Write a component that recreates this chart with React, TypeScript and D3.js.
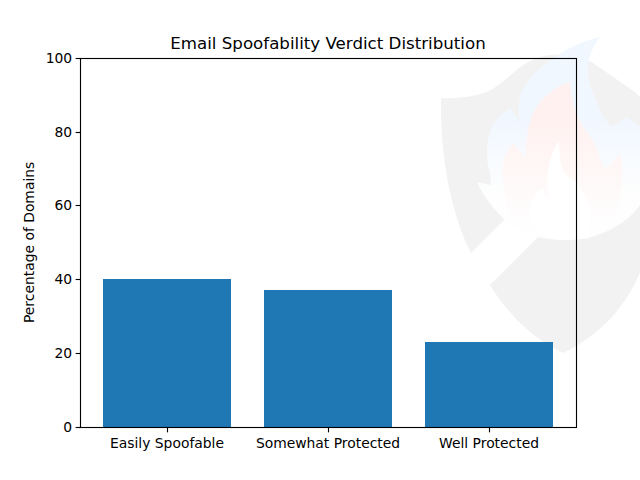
import React from 'react';
import * as d3 from 'd3';

const categories = ['Easily Spoofable', 'Somewhat Protected', 'Well Protected'];
const percentages = [40, 37, 23];
const yTicks = [0, 20, 40, 60, 80, 100];

const width = 640;
const height = 480;
const margin = { top: 57.6, right: 64, bottom: 52.8, left: 80 };
const font = '"DejaVu Sans", sans-serif';

// faint logo behind the plot
const shieldTop = 'M441 98 C456 99 472 97 487 92 C500 86 512 73 523 65 C550 48 580 55 593 63 L635 92 L640 97 L640 210 L520 204 L471 253 C452 215 440 160 441 98 Z';
const shieldBottom = 'M490 285 L560 215 L640 190 L640 272 C625 310 595 338 563 353 C535 340 508 315 490 285 Z';
const flameOuter = 'M600 37 C585 40 563 50 548 62 C533 73 523 85 520 97 C518 106 518 114 520 122 L510 108 C500 115 493 122 490 132 C486 146 486 160 490 173 L491 185 L477 182 C483 195 493 209 505 220 C520 235 545 240 563 240 C590 241 622 230 640 205 L640 127 L627 117 L612 127 L603 117 L593 93 C587 78 583 60 600 37 Z';
const flameRed = 'M570 82 C556 86 543 97 536 108 C530 118 527 130 525 158 L513 143 C507 150 503 158 503 167 C502 180 504 195 512 225 L612 225 C618 210 622 195 622 180 C623 172 622 162 620 154 C615 160 609 165 605 170 C600 158 597 150 595 143 C585 130 578 120 575 110 C572 100 571 92 570 82 Z';
const flameInner = 'M559 141 C552 150 548 165 547 180 C547 188 548 196 550 203 L542 188 C536 194 532 198 531 204 C527 215 530 222 535 227 C545 237 555 240 563 240 L590 238 L590 210 C588 203 585 197 583 193 C580 186 577 182 572 179 C565 175 562 170 560 160 L559 141 Z';

export default function App() {
  const x = d3.scaleBand<string>()
    .domain(categories)
    .range([margin.left, width - margin.right])
    .paddingInner(0.2)
    .paddingOuter(0.14);
  const y = d3.scaleLinear()
    .domain([0, 100])
    .range([height - margin.bottom, margin.top]);
  const snap = (v: number) => Math.round(v) + 0.5;
  const left = snap(margin.left);
  const right = snap(width - margin.right);
  const top = snap(margin.top);
  const bottom = snap(height - margin.bottom);

  return (
    <svg width={width} height={height} style={{ position: 'absolute', left: 0, top: 0 }} fontFamily={font}>
      <defs>
        <linearGradient id="blueFade" gradientUnits="userSpaceOnUse" x1={0} x2={0} y1={120} y2={195}>
          <stop offset="0%" stopColor="#f1f7ff" />
          <stop offset="100%" stopColor="#fefefe" />
        </linearGradient>
        <linearGradient id="redFade" gradientUnits="userSpaceOnUse" x1={0} x2={0} y1={120} y2={222}>
          <stop offset="0%" stopColor="#fff1f0" />
          <stop offset="100%" stopColor="#fefefe" />
        </linearGradient>
      </defs>
      <rect width={width} height={height} fill="#fff" />
      <g>
        <path d={shieldTop} fill="#f2f2f2" />
        <path d={shieldBottom} fill="#f2f2f2" />
        <path d={flameOuter} fill="url(#blueFade)" />
        <path d={flameRed} fill="url(#redFade)" />
        <path d={flameInner} fill="#fff" />
      </g>
      {categories.map((c, i) => {
        const x0 = Math.round(x(c) as number);
        const x1 = Math.round((x(c) as number) + x.bandwidth());
        const y0 = Math.round(y(percentages[i]));
        return <rect key={c} x={x0} y={y0} width={x1 - x0} height={Math.round(y(0)) - y0} fill="#1f77b4" />;
      })}
      <rect x={left} y={top} width={right - left} height={bottom - top} fill="none" stroke="#000" strokeWidth={1.11} />
      {yTicks.map(t => (
        <g key={t}>
          <line x1={left} x2={left - 4.86} y1={snap(y(t))} y2={snap(y(t))} stroke="#000" strokeWidth={1.11} />
          <text x={72.2} y={y(t)} dy="0.36em" textAnchor="end" fontSize={13.89} fill="#000">{t}</text>
        </g>
      ))}
      {categories.map(c => {
        const cx = (x(c) as number) + x.bandwidth() / 2;
        return (
          <g key={c}>
            <line x1={snap(cx)} x2={snap(cx)} y1={bottom} y2={bottom + 4.86} stroke="#000" strokeWidth={1.11} />
            <text x={cx} y={448} textAnchor="middle" fontSize={13.89} fill="#000">{c}</text>
          </g>
        );
      })}
      <text transform={`translate(34,${(margin.top + height - margin.bottom) / 2}) rotate(-90)`} textAnchor="middle" fontSize={13.89} fill="#000">Percentage of Domains</text>
      <text x={(margin.left + width - margin.right) / 2} y={49} textAnchor="middle" fontSize={16.67} fill="#000">Email Spoofability Verdict Distribution</text>
    </svg>
  );
}
